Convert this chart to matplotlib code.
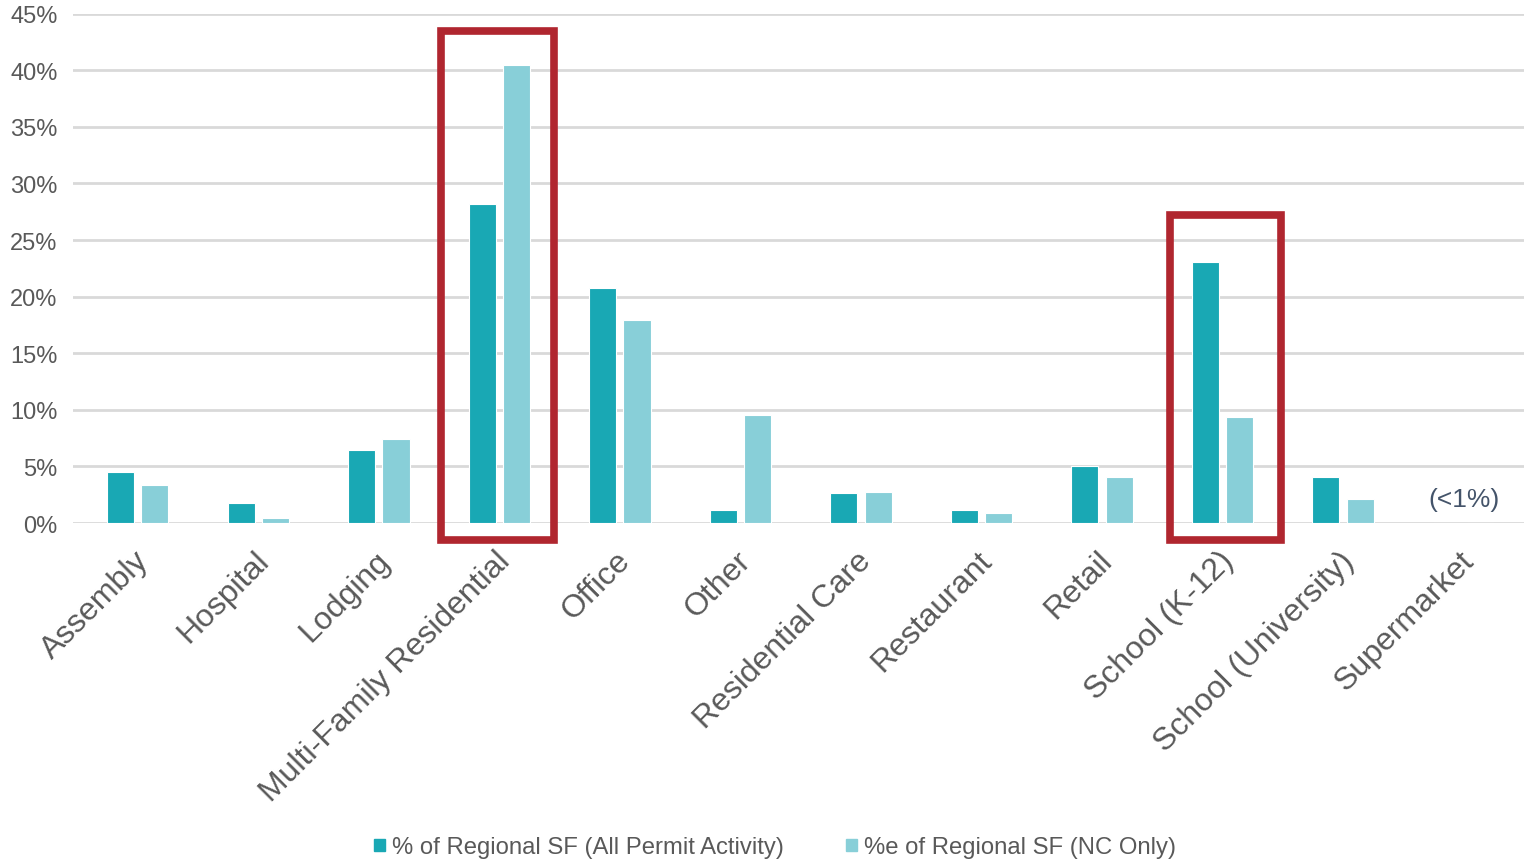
import matplotlib.pyplot as plt
import numpy as np
from matplotlib.patches import Rectangle, Patch

plt.rcParams['font.family'] = ['Liberation Sans', 'DejaVu Sans']

categories = ['Assembly', 'Hospital', 'Lodging', 'Multi-Family Residential', 'Office',
              'Other', 'Residential Care', 'Restaurant', 'Retail', 'School (K-12)',
              'School (University)', 'Supermarket']
all_permit = [4.5, 1.8, 6.45, 28.2, 20.8, 1.15, 2.65, 1.15, 5.0, 23.1, 4.05, 0]
nc_only = [3.4, 0.45, 7.4, 40.5, 17.95, 9.55, 2.75, 0.9, 4.05, 9.35, 2.1, 0]
yticks = [0, 5, 10, 15, 20, 25, 30, 35, 40, 45]
# highlighted categories: (index, top of box in %)
highlights = [(3, 43.5), (9, 27.2)]

dark = '#19A8B4'
light = '#88CFD8'
red = '#B0262F'
grey = '#595959'

fig = plt.figure(figsize=(15.26, 8.62), dpi=100)
ax = fig.add_axes([0.0478, 0.392, 0.951, 0.591])

x = np.arange(len(categories))
w = 0.225
ax.bar(x - 0.145, all_permit, w, color=dark, edgecolor='white', linewidth=0.8, zorder=3)
ax.bar(x + 0.14, nc_only, w, color=light, edgecolor='white', linewidth=0.8, zorder=3)

ax.set_xlim(-0.54, len(categories) - 0.5)
ax.set_ylim(0, 45)
ax.set_yticks(yticks)
ax.set_yticklabels([f'{t}%' for t in yticks], fontsize=17, color=grey)
ax.grid(axis='y', color='#D9D9D9', linewidth=2, zorder=0)
ax.set_axisbelow(True)
for s in ax.spines.values():
    s.set_visible(False)
ax.tick_params(axis='both', length=0)
ax.tick_params(axis='y', pad=11)

ax.set_xticks(x - 0.04)
ax.set_xticklabels(categories, rotation=45, ha='right', rotation_mode='anchor',
                   fontsize=23, color=grey)
ax.tick_params(axis='x', pad=16)

box_x = {3: (-0.49, 0.455), 9: (-0.44, 0.48)}
for i, top in highlights:
    x0, x1 = box_x[i]
    ax.add_patch(Rectangle((i + x0, -1.45), x1 - x0, top + 1.45, fill=False,
                           edgecolor=red, linewidth=5.5, clip_on=False, zorder=4))

ax.text(11.0, 2.1, '(<1%)', fontsize=19, color='#44546A', ha='center', va='center')

handles = [Patch(color=dark), Patch(color=light)]
fig.legend(handles, ['% of Regional SF (All Permit Activity)', '%e of Regional SF (NC Only)'],
           loc='lower center', bbox_to_anchor=(0.508, -0.022), ncol=2, frameon=False,
           fontsize=17.2, handlelength=0.45, handleheight=0.45, handletextpad=0.3,
           columnspacing=2.6, labelcolor=grey)

fig.savefig('out.png', dpi=100)
